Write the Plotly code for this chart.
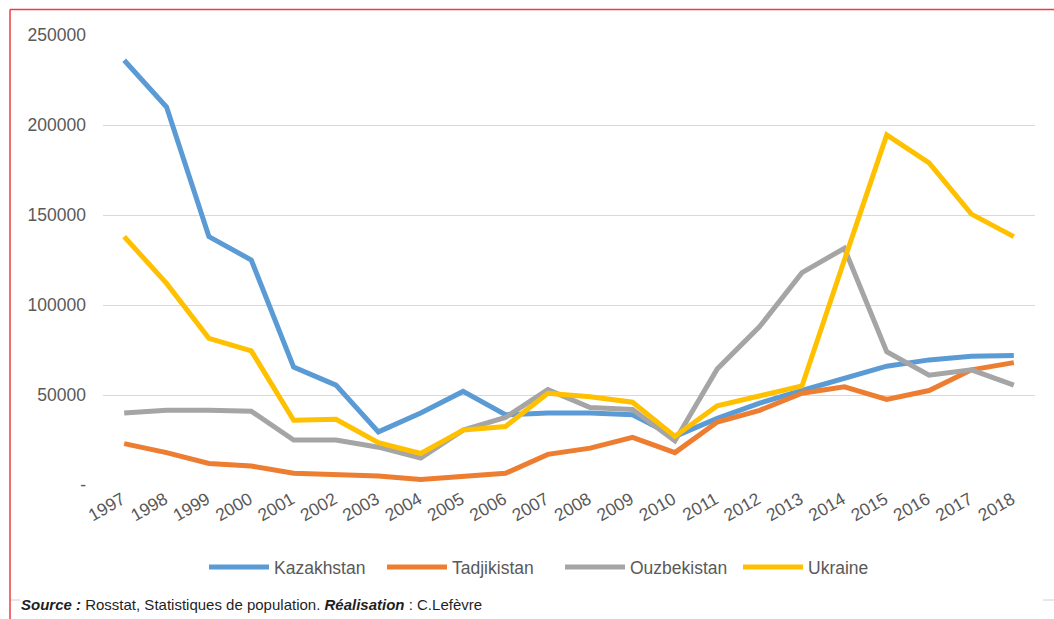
import plotly.graph_objects as go

years = [str(y) for y in range(1997, 2019)]

kazakhstan = [236000, 210000, 138000, 125000, 65500, 55500, 29500, 40000, 52000, 39000, 40000,
              40000, 39000, 27000, 37000, 45500, 52500, 59500, 66000, 69500, 71500, 72000]
tadjikistan = [23000, 18000, 12000, 10500, 6500, 5800, 5000, 3000, 4500, 6500, 17000,
               20500, 26500, 18000, 35000, 41500, 51000, 54500, 47500, 52500, 64000, 68000]
ouzbekistan = [40000, 41500, 41500, 41000, 25000, 25000, 21000, 15000, 30500, 37500, 53000,
               43000, 42000, 24500, 64500, 88000, 118000, 131500, 74000, 61000, 64000, 55500]
ukraine = [138000, 112000, 81500, 74500, 36000, 36500, 23500, 17500, 30500, 32500, 51000,
           49000, 46000, 27000, 44000, 49500, 55000, 125000, 194500, 179000, 150500, 138000]

series_names = ["Kazakhstan", "Tadjikistan", "Ouzbekistan", "Ukraine"]
series_values = [kazakhstan, tadjikistan, ouzbekistan, ukraine]
series_colors = ["#5B9BD5", "#ED7D31", "#A5A5A5", "#FFC000"]

y_tickvals = [0, 50000, 100000, 150000, 200000, 250000]
y_ticktext = ["-", "50000", "100000", "150000", "200000", "250000"]

W, H = 1054, 619
L, R, T, B = 103, 19, 35, 134
PW, PH = W - L - R, H - T - B


def px(x):
    return (x - L) / PW


def py(y):
    return (H - B - y) / PH


FONT = "Arial, Liberation Sans, sans-serif"

fig = go.Figure()
for name, vals, col in zip(series_names, series_values, series_colors):
    fig.add_trace(go.Scatter(x=years, y=vals, name=name, mode="lines",
                             line=dict(color=col, width=5, shape="linear")))

fig.update_layout(
    width=W, height=H,
    margin=dict(l=L, r=R, t=T, b=B),
    paper_bgcolor="white", plot_bgcolor="white",
    font=dict(family=FONT, color="#595959", size=17),
    showlegend=True,
    legend=dict(orientation="h", x=px(560), xanchor="center", y=py(567), yanchor="middle",
                font=dict(size=17.5, color="#595959"), itemwidth=60,
                entrywidth=103, entrywidthmode="pixels", traceorder="normal"),
    xaxis=dict(type="category", range=[-0.5, 21.5], tickangle=-30, showgrid=False,
               showline=False, ticks="", tickfont=dict(size=17.5, color="#595959"), zeroline=False,
               ticklabelstandoff=0, ticklabelshift=-2),
    yaxis=dict(range=[0, 250000], tickvals=y_tickvals, ticktext=y_ticktext, showgrid=True,
               gridcolor="#D9D9D9", gridwidth=1, zeroline=False, showline=False, ticks="",
               ticklabelstandoff=16, tickfont=dict(size=17.5, color="#595959")),
    shapes=[
        dict(type="line", xref="paper", yref="paper", x0=px(10), x1=px(1054), y0=py(9.5), y1=py(9.5),
             line=dict(color="#EE3B44", width=1.5)),
        dict(type="line", xref="paper", yref="paper", x0=px(10), x1=px(10), y0=py(9.5), y1=py(619),
             line=dict(color="#EE3B44", width=1.5)),
        dict(type="line", xref="paper", yref="paper", x0=px(11), x1=px(20), y0=py(600), y1=py(600),
             line=dict(color="#D0D0D0", width=1)),
        dict(type="line", xref="paper", yref="paper", x0=px(1043), x1=px(1054), y0=py(600), y1=py(600),
             line=dict(color="#D0D0D0", width=1)),
    ],
    annotations=[
        dict(xref="paper", yref="paper", x=px(19), y=py(604), xanchor="left", yanchor="middle",
             showarrow=False, align="left",
             text="<b><i>Source :</i></b> Rosstat, Statistiques de population. "
                  "<b><i>Réalisation</i></b> : C.Lefèvre",
             font=dict(size=15, color="#1F1F1F", family=FONT)),
    ],
)

fig.write_html("out.html", config={"displayModeBar": False},
               post_script="document.body.style.margin='0';document.body.style.overflow='hidden';")
